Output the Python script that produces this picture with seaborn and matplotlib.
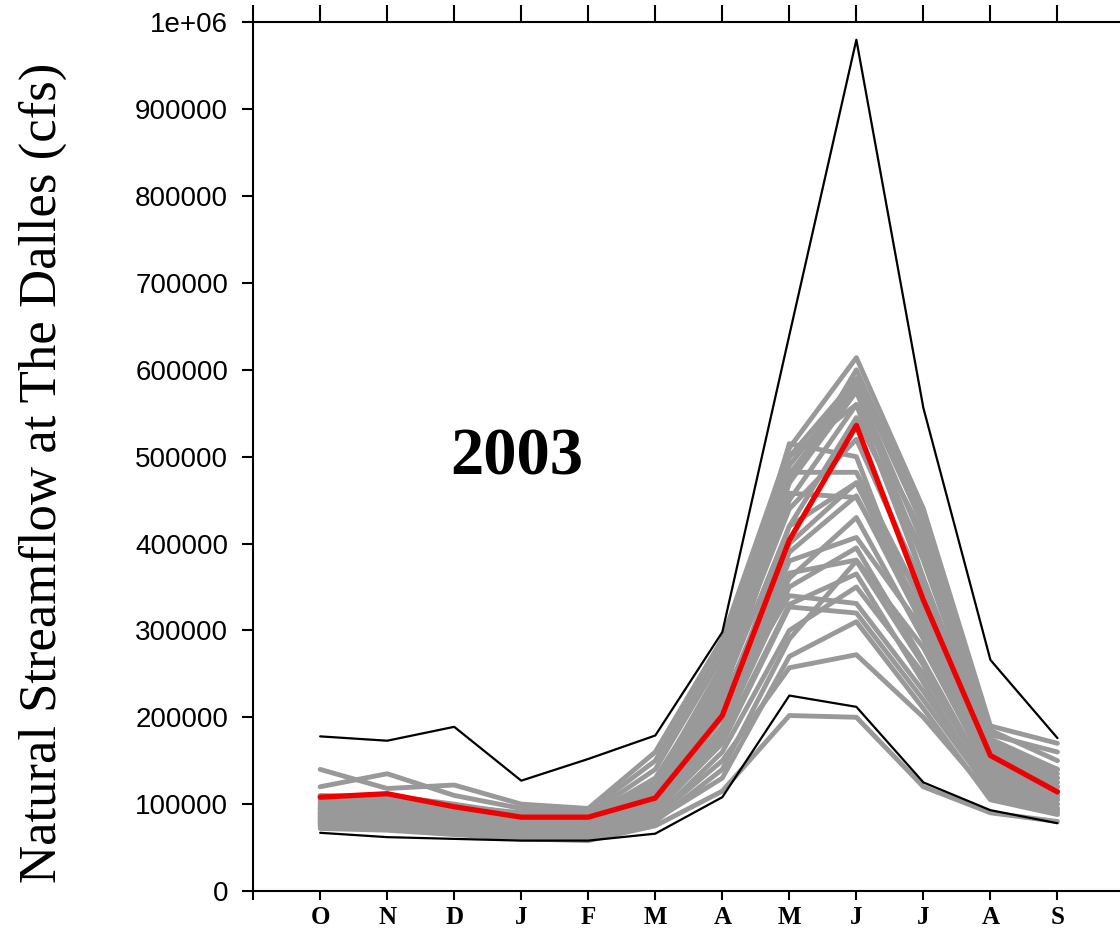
import matplotlib
matplotlib.use("Agg")
import matplotlib.pyplot as plt
import numpy as np
import pandas as pd
import seaborn as sns
from matplotlib.ticker import FuncFormatter

sns.set_theme(style="white")

MONTHS = ["O", "N", "D", "J", "F", "M", "A", "M", "J", "J", "A", "S"]

# monthly flows in thousands of cfs
MAX_FLOW = [178, 173, 189, 127, 152, 179, 298, 640, 980, 556, 266, 176]
MIN_FLOW = [67, 62, 60, 58, 58, 66, 108, 225, 212, 125, 93, 78]
YEAR_2003 = [108, 112, 97, 85, 85, 107, 202, 404, 536, 335, 156, 114]

ENSEMBLE = [
    [140, 118, 122, 100, 95, 160, 290, 510, 614, 440, 190, 170],
    [120, 135, 110, 95, 92, 150, 280, 500, 590, 420, 180, 160],
    [105, 110, 100, 88, 85, 130, 250, 480, 580, 400, 170, 140],
    [95, 100, 90, 80, 78, 120, 240, 470, 575, 380, 165, 135],
    [90, 95, 85, 78, 75, 110, 230, 500, 560, 360, 160, 130],
    [100, 105, 95, 85, 82, 125, 260, 515, 500, 300, 140, 120],
    [85, 90, 80, 72, 70, 100, 220, 482, 482, 330, 150, 125],
    [88, 92, 82, 75, 72, 105, 225, 458, 453, 320, 145, 120],
    [80, 85, 78, 70, 68, 95, 200, 420, 545, 390, 160, 120],
    [82, 80, 75, 68, 65, 90, 190, 380, 407, 300, 140, 110],
    [78, 82, 72, 66, 64, 88, 180, 366, 381, 280, 135, 105],
    [92, 88, 80, 73, 70, 98, 210, 340, 331, 230, 120, 100],
    [86, 84, 76, 70, 68, 92, 170, 327, 320, 220, 115, 95],
    [75, 78, 70, 65, 62, 85, 150, 257, 272, 200, 110, 90],
    [72, 70, 65, 60, 58, 75, 115, 202, 200, 120, 90, 80],
    [95, 98, 88, 80, 76, 115, 245, 440, 520, 350, 155, 130],
    [110, 108, 98, 90, 88, 140, 270, 470, 600, 430, 185, 150],
    [84, 86, 78, 72, 70, 100, 215, 400, 470, 310, 150, 115],
    [90, 92, 84, 76, 74, 108, 235, 450, 560, 410, 175, 140],
    [98, 96, 86, 78, 75, 112, 200, 360, 430, 290, 130, 110],
    [80, 78, 72, 66, 63, 85, 160, 300, 350, 250, 125, 100],
    [76, 74, 68, 63, 60, 80, 140, 290, 380, 260, 120, 95],
    [102, 100, 92, 84, 80, 120, 255, 490, 585, 360, 150, 125],
    [88, 90, 80, 74, 72, 100, 185, 350, 395, 265, 125, 105],
    [94, 104, 92, 82, 80, 118, 230, 420, 470, 330, 140, 115],
    [82, 84, 74, 68, 66, 94, 175, 330, 365, 240, 115, 92],
    [78, 76, 70, 64, 62, 82, 130, 270, 310, 210, 105, 88],
    [96, 94, 84, 77, 74, 106, 205, 390, 455, 305, 135, 108],
]


def long_frame(rows):
    recs = []
    for i, row in enumerate(rows):
        for m, v in enumerate(row):
            recs.append({"member": i, "month": m + 1, "flow": v * 1000})
    return pd.DataFrame(recs)


def main():
    fig = plt.figure(figsize=(11.2, 9.32), dpi=100)
    ax = fig.add_axes([0.226, 0.044, 0.778, 0.932])

    ens = long_frame(ENSEMBLE)
    sns.lineplot(data=ens, x="month", y="flow", units="member", estimator=None,
                 color="#999999", lw=3.5, ax=ax, legend=False)

    x = np.arange(1, len(MONTHS) + 1)
    for vals in (MAX_FLOW, MIN_FLOW):
        sns.lineplot(x=x, y=np.array(vals) * 1000, color="black", lw=1.6, ax=ax)
    sns.lineplot(x=x, y=np.array(YEAR_2003) * 1000, color="#ee0000", lw=3.8, ax=ax)

    ax.text(3.94, 499000, "2003", ha="center", va="center", fontsize=48,
            fontweight="bold", family="Liberation Serif", color="black")

    ax.set_xlim(0, 13)
    ax.set_ylim(0, 1e6)
    ax.set_xticks(range(0, 14))
    ax.set_xticklabels([""] + MONTHS + [""], fontweight="bold",
                       family="Liberation Serif", fontsize=18, color="black")
    ax.set_yticks(np.arange(0, 1e6 + 1, 100000))
    ax.yaxis.set_major_formatter(FuncFormatter(
        lambda v, p: "1e+06" if v >= 1e6 else f"{int(v)}"))
    for lab in ax.get_yticklabels():
        lab.set_family("Liberation Sans")
        lab.set_fontsize(20)
        lab.set_color("black")

    ax.set_xlabel("")
    ax.set_ylabel("Natural Streamflow at The Dalles (cfs)",
                  family="Liberation Serif", fontsize=38, color="black")
    ax.yaxis.set_label_coords(-0.214, 0.481)

    for side in ("left", "bottom", "top"):
        ax.spines[side].set_visible(True)
        ax.spines[side].set_color("black")
        ax.spines[side].set_linewidth(1.5)
    ax.spines["right"].set_visible(False)
    ax.tick_params(axis="y", left=True, direction="out", length=8, width=1.5,
                   color="black", pad=10)
    ax.tick_params(axis="x", top=True, bottom=True, direction="out",
                   length=6.5, width=1.5, color="black", pad=4)
    for t in ax.xaxis.get_major_ticks():
        t.tick2line.set_markersize(12)
    ax.grid(False)

    fig.savefig("out.png", dpi=100)
    plt.close(fig)


if __name__ == "__main__":
    main()
